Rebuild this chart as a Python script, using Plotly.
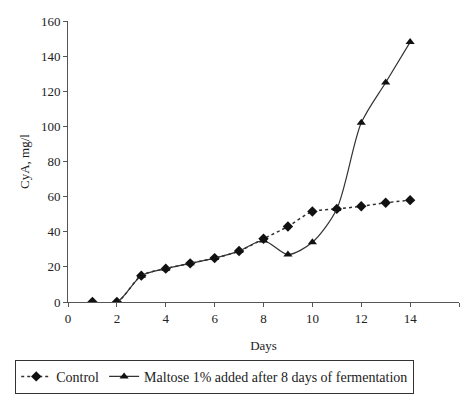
import plotly.graph_objects as go

days = [1, 2, 3, 4, 5, 6, 7, 8, 9, 10, 11, 12, 13, 14]
control = [0, 0, 15, 19, 22, 25, 29, 36, 43, 51.5, 53, 54.5, 56.5, 58]
maltose = [0, 0, 15, 19, 22, 25, 29, 35, 27, 34, 53, 102, 125, 148]

FONT = "Liberation Serif"

fig = go.Figure()
fig.add_trace(go.Scatter(
    x=days, y=control, name="Control", mode="lines+markers",
    line=dict(color="#333", width=1.5, dash="dot", shape="spline", smoothing=0.8),
    marker=dict(symbol="diamond", size=8, color="#111"),
))
fig.add_trace(go.Scatter(
    x=days, y=maltose, name="Maltose 1% added after 8 days of fermentation",
    mode="lines+markers",
    line=dict(color="#333", width=1.2, shape="spline", smoothing=0.8),
    marker=dict(symbol="triangle-up", size=8, color="#111"),
))

fig.update_layout(
    width=465, height=399,
    margin=dict(l=68, r=6, t=21, b=96),
    paper_bgcolor="white", plot_bgcolor="white",
    font=dict(family=FONT, size=13, color="#222"),
    showlegend=True,
    legend=dict(
        orientation="h", xref="paper", yref="paper",
        x=-0.135, xanchor="left", y=-0.322, yanchor="bottom",
        bordercolor="#333", borderwidth=1, font=dict(size=14, family=FONT),
        tracegroupgap=0,
    ),
    xaxis=dict(
        range=[0, 16], dtick=2, showline=True, linecolor="#555", linewidth=1,
        ticks="outside", ticklen=4, tickcolor="#555", showgrid=False, zeroline=False,
        title=dict(text="Days", font=dict(size=13, family=FONT), standoff=16),
    ),
    yaxis=dict(
        range=[0, 160], dtick=20, showline=True, linecolor="#555", linewidth=1,
        ticks="outside", ticklen=4, tickcolor="#555", showgrid=False, zeroline=False,
        title=dict(text="CyA, mg/l", font=dict(size=13, family=FONT), standoff=8),
    ),
)

fig.write_html("out.html")
